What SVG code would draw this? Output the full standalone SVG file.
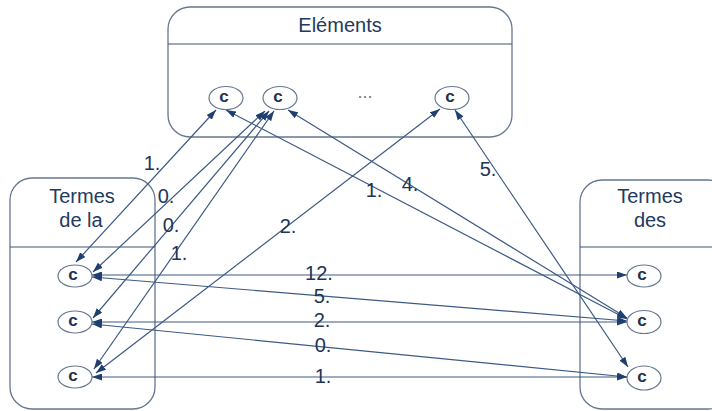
<svg xmlns="http://www.w3.org/2000/svg" width="712" height="411" viewBox="0 0 712 411">
<defs>
<style>
.box{fill:#ffffff;stroke:#66778f;stroke-width:1.3}
.sep{stroke:#3d5274;stroke-width:1.2}
.title{font-family:"Liberation Sans",Arial,sans-serif;font-size:20px;fill:#213a60;text-anchor:middle}
.node{fill:#ffffff;stroke:#66778f;stroke-width:1.2}
.c{font-family:"Liberation Sans",Arial,sans-serif;font-size:17px;font-weight:bold;fill:#1e3050;text-anchor:middle}
.lbl{font-family:"Liberation Sans",Arial,sans-serif;font-size:20px;fill:#1e3558;text-anchor:middle}
.edge{fill:none;stroke:#3d5a84;stroke-width:1.2;marker-start:url(#ah);marker-end:url(#ah)}
</style>
<marker id="ah" viewBox="0 0 10 7" refX="10" refY="3.5" markerUnits="userSpaceOnUse" markerWidth="10" markerHeight="7" orient="auto-start-reverse">
<path d="M0,0 L10,3.5 L0,7 z" fill="#1f3f70"/>
</marker>
</defs>
<rect width="712" height="411" fill="#ffffff"/>

<g id="box-elements">
<rect class="box" x="168" y="7" width="344" height="130" rx="22"/>
<line class="sep" x1="168" y1="44" x2="512" y2="44"/>
<text class="title" x="340" y="32">Eléments</text>
</g>
<g id="box-termes-de-la">
<rect class="box" x="10" y="178" width="145" height="231" rx="22"/>
<line class="sep" x1="10" y1="247" x2="155" y2="247"/>
<text class="title" x="82" y="203">Termes</text>
<text class="title" x="81" y="227">de la</text>
</g>
<g id="box-termes-des">
<rect class="box" x="580" y="180" width="150" height="229" rx="22"/>
<line class="sep" x1="580" y1="247" x2="712" y2="247"/>
<text class="title" x="650" y="203">Termes</text>
<text class="title" x="650" y="227">des</text>
</g>

<g id="connectors">
<line class="edge" x1="92" y1="275" x2="627" y2="275"/>
<line class="edge" x1="92" y1="277" x2="627" y2="321"/>
<line class="edge" x1="92" y1="322" x2="627" y2="322"/>
<line class="edge" x1="92" y1="324" x2="627" y2="377"/>
<line class="edge" x1="92" y1="377" x2="627" y2="377"/>
<line class="edge" x1="216" y1="110" x2="76" y2="262"/>
<line class="edge" x1="265" y1="111" x2="93" y2="272"/>
<line class="edge" x1="269" y1="111" x2="93" y2="318"/>
<line class="edge" x1="274" y1="111" x2="94" y2="369"/>
<line class="edge" x1="440" y1="109" x2="96" y2="373"/>
<line class="edge" x1="226" y1="110" x2="627" y2="319"/>
<line class="edge" x1="288" y1="110" x2="627" y2="318"/>
<line class="edge" x1="455" y1="110" x2="628" y2="367"/>
</g>

<g id="labels">
<text class="lbl" x="319" y="280">12.</text>
<text class="lbl" x="322" y="303">5.</text>
<text class="lbl" x="322" y="327">2.</text>
<text class="lbl" x="323" y="352">0.</text>
<text class="lbl" x="323" y="383">1.</text>
<text class="lbl" x="152" y="170">1.</text>
<text class="lbl" x="166" y="203">0.</text>
<text class="lbl" x="171" y="232">0.</text>
<text class="lbl" x="179" y="260">1.</text>
<text class="lbl" x="288" y="233">2.</text>
<text class="lbl" x="374" y="197">1.</text>
<text class="lbl" x="410" y="191">4.</text>
<text class="lbl" x="488" y="176">5.</text>
</g>

<g id="node-t1"><ellipse class="node" cx="226" cy="98" rx="17" ry="11.5"/><text class="c" x="224" y="102">c</text></g>
<g id="node-t2"><ellipse class="node" cx="280" cy="98" rx="17" ry="11.5"/><text class="c" x="278" y="102">c</text></g>
<text id="dots" x="365" y="98" font-family="Liberation Sans, Arial, sans-serif" font-size="18" fill="#7a7a7a" text-anchor="middle">...</text>
<g id="node-t3"><ellipse class="node" cx="452" cy="98" rx="17" ry="11.5"/><text class="c" x="450" y="102">c</text></g>

<g id="node-l1"><ellipse class="node" cx="75" cy="276" rx="17" ry="11"/><text class="c" x="73" y="280">c</text></g>
<g id="node-l2"><ellipse class="node" cx="75" cy="322" rx="17" ry="11"/><text class="c" x="73" y="326">c</text></g>
<g id="node-l3"><ellipse class="node" cx="75" cy="377" rx="17" ry="11"/><text class="c" x="73" y="381">c</text></g>

<g id="node-r1"><ellipse class="node" cx="644" cy="276" rx="17" ry="11"/><text class="c" x="642" y="280">c</text></g>
<g id="node-r2"><ellipse class="node" cx="644" cy="322" rx="17" ry="11.5"/><text class="c" x="642" y="326">c</text></g>
<g id="node-r3"><ellipse class="node" cx="644" cy="378" rx="17" ry="12"/><text class="c" x="642" y="382">c</text></g>
</svg>
